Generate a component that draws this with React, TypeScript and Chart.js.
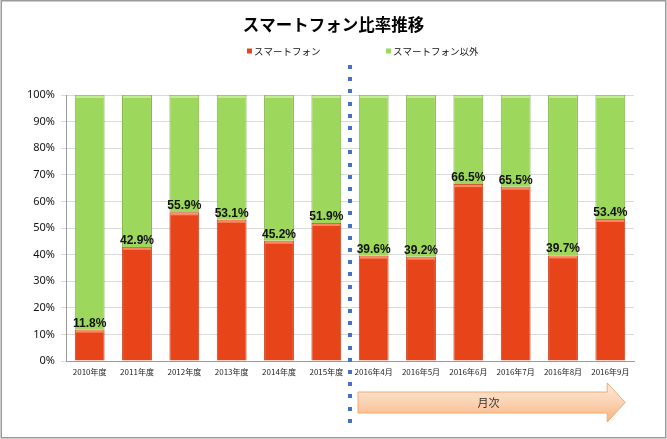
import React, { useEffect, useRef } from "react";
import { Chart, registerables } from "chart.js";

Chart.register(...registerables);

const chartTitle = "スマートフォン比率推移";
const seriesNames = ["スマートフォン", "スマートフォン以外"];
const categories = [
  "2010年度", "2011年度", "2012年度", "2013年度", "2014年度", "2015年度",
  "2016年4月", "2016年5月", "2016年6月", "2016年7月", "2016年8月", "2016年9月",
];
const smartphoneShare = [11.8, 42.9, 55.9, 53.1, 45.2, 51.9, 39.6, 39.2, 66.5, 65.5, 39.7, 53.4];
const otherShare = [88.2, 57.1, 44.1, 46.9, 54.8, 48.1, 60.4, 60.8, 33.5, 34.5, 60.3, 46.6];
const yMin = 0;
const yMax = 100;
const yStep = 10;
const arrowLabel = "月次";
const yearlyCount = 6; // number of yearly categories before the dashed divider

const RED = "#E8441A";
const GREEN = "#9DD75B";
const CJK = '"Noto Sans CJK JP", "Noto Sans", sans-serif';

const decorPlugin = {
  id: "decor",
  beforeDraw(chart: any) {
    const ctx = chart.ctx;
    ctx.save();
    ctx.fillStyle = "#ffffff";
    ctx.fillRect(0, 0, chart.width, chart.height);
    ctx.restore();
  },
  afterDatasetsDraw(chart: any) {
    const ctx = chart.ctx;
    ctx.save();
    // top highlight strip on bars (3D-ish look)
    chart.data.datasets.forEach((ds: any, di: number) => {
      const meta = chart.getDatasetMeta(di);
      meta.data.forEach((bar: any) => {
        const w = bar.width;
        const top = Math.min(bar.y, bar.base);
        ctx.fillStyle = di === 0 ? "rgba(255,160,120,0.75)" : "rgba(205,240,160,0.85)";
        ctx.fillRect(bar.x - w / 2 + 1, top + 0.5, w - 2, 2.5);
      });
    });
    // data labels above red bars
    const meta0 = chart.getDatasetMeta(0);
    ctx.fillStyle = "#111111";
    ctx.font = 'bold 12px "Liberation Sans", Arial, sans-serif';
    ctx.textAlign = "center";
    ctx.textBaseline = "alphabetic";
    meta0.data.forEach((bar: any, i: number) => {
      ctx.fillText(smartphoneShare[i].toFixed(1) + "%", bar.x, bar.y - 3);
    });
    ctx.restore();
  },
  afterDraw(chart: any) {
    const ctx = chart.ctx;
    const xs = chart.scales.x;
    const area = chart.chartArea;
    ctx.save();

    // frame
    ctx.strokeStyle = "#9a9a9a";
    ctx.lineWidth = 1.5;
    ctx.strokeRect(1.25, 0.75, chart.width - 2.5, chart.height - 2);

    // title
    ctx.fillStyle = "#000000";
    ctx.font = "bold 16.5px " + CJK;
    ctx.textAlign = "center";
    ctx.textBaseline = "middle";
    ctx.fillText(chartTitle, chart.width / 2, 25);

    // legend
    ctx.font = "9.5px " + CJK;
    ctx.textAlign = "left";
    ctx.textBaseline = "middle";
    const legendItems = [
      { x: 247, color: RED, label: seriesNames[0] },
      { x: 386, color: GREEN, label: seriesNames[1] },
    ];
    legendItems.forEach((it) => {
      ctx.fillStyle = it.color;
      ctx.fillRect(it.x, 48.5, 5, 5);
      ctx.fillStyle = "#111111";
      ctx.fillText(it.label, it.x + 7, 51.5);
    });

    // dashed divider between yearly and monthly categories
    const divX = (xs.getPixelForValue(yearlyCount - 1) + xs.getPixelForValue(yearlyCount)) / 2;
    ctx.fillStyle = "#4472C4";
    for (let y = 65; y <= 420; y += 12.2) {
      ctx.fillRect(Math.round(divX - 2), Math.round(y), 4, 4);
    }

    // arrow under monthly categories
    const bw = chart.getDatasetMeta(0).data[0].width;
    const left = divX + 8;
    const tip = xs.getPixelForValue(categories.length - 1) + bw / 2;
    const headX = tip - 18;
    const bodyTop = 392;
    const bodyBot = 413;
    const headTop = 383;
    const headBot = 422;
    const midY = (bodyTop + bodyBot) / 2;
    const grad = ctx.createLinearGradient(0, headTop, 0, headBot);
    grad.addColorStop(0, "#FDEBDD");
    grad.addColorStop(0.5, "#FBD2B2");
    grad.addColorStop(1, "#F8B27E");
    ctx.beginPath();
    ctx.moveTo(left, bodyTop);
    ctx.lineTo(headX, bodyTop);
    ctx.lineTo(headX, headTop);
    ctx.lineTo(tip, midY);
    ctx.lineTo(headX, headBot);
    ctx.lineTo(headX, bodyBot);
    ctx.lineTo(left, bodyBot);
    ctx.closePath();
    ctx.fillStyle = grad;
    ctx.fill();
    ctx.strokeStyle = "#F4A970";
    ctx.lineWidth = 1;
    ctx.stroke();

    ctx.fillStyle = "#333333";
    ctx.font = "11px " + CJK;
    ctx.textAlign = "center";
    ctx.textBaseline = "middle";
    ctx.fillText(arrowLabel, (left + tip) / 2 - 3, midY);

    ctx.restore();
  },
};

export default function App() {
  const ref = useRef<HTMLCanvasElement | null>(null);

  useEffect(() => {
    if (!ref.current) return;
    const chart = new Chart(ref.current, {
      type: "bar",
      data: {
        labels: categories,
        datasets: [
          {
            label: seriesNames[0],
            data: smartphoneShare,
            backgroundColor: RED,
            borderColor: "#C43A14",
            borderWidth: 1,
            categoryPercentage: 1,
            barPercentage: 0.63,
          },
          {
            label: seriesNames[1],
            data: otherShare,
            backgroundColor: GREEN,
            borderColor: "#7DB043",
            borderWidth: 1,
            categoryPercentage: 1,
            barPercentage: 0.63,
          },
        ],
      },
      options: {
        responsive: false,
        animation: false,
        devicePixelRatio: 1,
        layout: { padding: { top: 95, right: 33, bottom: 58, left: 0 } },
        plugins: {
          legend: { display: false },
          title: { display: false },
          tooltip: { enabled: false },
        },
        scales: {
          x: {
            stacked: true,
            offset: true,
            grid: { display: false, drawTicks: false },
            border: { display: true, color: "#9a9a9a" },
            ticks: {
              color: "#222222",
              font: { family: CJK, size: 8 },
              padding: 6,
              maxRotation: 0,
              autoSkip: false,
            },
            afterFit: (s: any) => {
              s.height = 20;
            },
          },
          y: {
            stacked: true,
            min: yMin,
            max: yMax,
            grid: { color: "#D9D9D9", tickLength: 5, drawTicks: true },
            border: { display: true, color: "#9a9a9a" },
            ticks: {
              stepSize: yStep,
              color: "#111111",
              font: { family: '"Noto Sans", sans-serif', size: 11 },
              padding: 6,
              callback: (v: any) => v + "%",
            },
            afterFit: (s: any) => {
              s.width = 66;
            },
          },
        },
      },
      plugins: [decorPlugin],
    });
    return () => chart.destroy();
  }, []);

  return (
    <div style={{ position: "fixed", left: 0, top: 0, width: 667, height: 439, background: "#fff" }}>
      <canvas ref={ref} width={667} height={439} style={{ display: "block" }} />
    </div>
  );
}
